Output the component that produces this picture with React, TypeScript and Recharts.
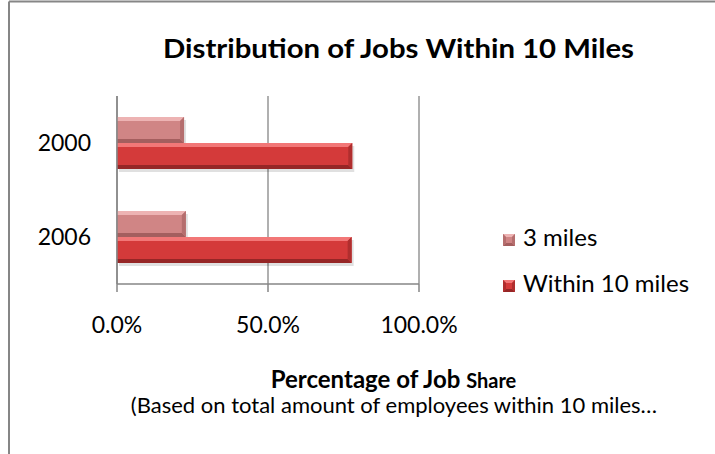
import React from 'react';
import { BarChart, Bar, XAxis, YAxis, CartesianGrid } from 'recharts';

const categories = ['2000', '2006'];
const threeMiles = [22.2, 22.8];
const within10Miles = [77.9, 77.7];
const xTicks = [0, 50, 100];
const seriesNames = ['3 miles', 'Within 10 miles'];
const chartTitle = 'Distribution of Jobs Within 10 Miles';
const axisTitleMain = 'Percentage of Job ';
const axisTitleTail = 'Share';
const axisSubtitle = '(Based on total amount of employees within 10 miles\u2026';

const data = categories.map((c, i) => ({ year: c, three: threeMiles[i], within: within10Miles[i] }));

const FONT = 'Lato, "Open Sans", sans-serif';
const GRID = '#868686';

const palettes = [
  { light: '#EDB3B3', face: '#D08585', dark: '#A45E5E', side: '#B56E6E' },
  { light: '#F27777', face: '#D43A3A', dark: '#962626', side: '#B02E2E' },
];

const makeShape = (p: typeof palettes[number]) => (props: any) => {
  const { x, y, width, height } = props;
  if (!width || width <= 0) return <g />;
  const b = Math.min(4, height / 4);
  return (
    <g>
      <rect x={x + 2} y={y + 3} width={width} height={height} fill="#000" opacity={0.12} />
      <rect x={x} y={y} width={width} height={height} fill={p.face} />
      <polygon points={`${x},${y} ${x + width},${y} ${x + width - b},${y + b} ${x},${y + b}`} fill={p.light} />
      <polygon points={`${x},${y + height} ${x + width},${y + height} ${x + width - b},${y + height - b} ${x},${y + height - b}`} fill={p.dark} />
      <polygon points={`${x + width},${y} ${x + width},${y + height} ${x + width - b},${y + height - b} ${x + width - b},${y + b}`} fill={p.side} />
    </g>
  );
};

const LegendMarker = ({ x, y, p }: { x: number; y: number; p: typeof palettes[number] }) => {
  const s = 12;
  const b = 3;
  return (
    <g>
      <rect x={x} y={y} width={s} height={s} fill={p.face} />
      <polygon points={`${x},${y} ${x + s},${y} ${x + s - b},${y + b} ${x + b},${y + b}`} fill={p.light} />
      <polygon points={`${x},${y + s} ${x + s},${y + s} ${x + s - b},${y + s - b} ${x + b},${y + s - b}`} fill={p.dark} />
      <polygon points={`${x + s},${y} ${x + s},${y + s} ${x + s - b},${y + s - b} ${x + s - b},${y + b}`} fill={p.side} />
      <polygon points={`${x},${y} ${x},${y + s} ${x + b},${y + s - b} ${x + b},${y + b}`} fill={p.side} />
    </g>
  );
};

export default function App() {
  return (
    <div style={{ position: 'absolute', left: 0, top: 0, width: 715, height: 454, background: '#fff', fontFamily: FONT }}>
      <div style={{ position: 'absolute', left: 0, top: 0 }}>
        <BarChart
          width={715}
          height={454}
          data={data}
          layout="vertical"
          margin={{ top: 96, right: 296, bottom: 140, left: 57 }}
          barGap={0}
          barSize={26}
        >
          <CartesianGrid horizontal={false} stroke={GRID} strokeWidth={1.3} />
          <XAxis
            type="number"
            domain={[0, 100]}
            ticks={xTicks}
            interval={0}
            tickFormatter={(v: number) => v.toFixed(1) + '%'}
            axisLine={{ stroke: GRID, strokeWidth: 1.5 }}
            tickLine={{ stroke: GRID, strokeWidth: 1.5 }}
            tickSize={8}
            tickMargin={25}
            height={30}
            tick={{ fill: '#000', fontSize: 23, fontFamily: FONT }}
          />
          <YAxis
            type="category"
            dataKey="year"
            width={60}
            axisLine={{ stroke: GRID, strokeWidth: 1.5 }}
            tickLine={false}
            tickSize={0}
            tickMargin={26}
            tick={{ fill: '#000', fontSize: 23, fontFamily: FONT }}
          />
          <Bar dataKey="three" name={seriesNames[0]} isAnimationActive={false} shape={makeShape(palettes[0])} />
          <Bar dataKey="within" name={seriesNames[1]} isAnimationActive={false} shape={makeShape(palettes[1])} />
        </BarChart>
      </div>
      <svg width={715} height={454} style={{ position: 'absolute', left: 0, top: 0, pointerEvents: 'none' }}>
        <line x1={9} y1={1.5} x2={715} y2={1.5} stroke={GRID} strokeWidth={2} />
        <line x1={9} y1={1.5} x2={9} y2={454} stroke={GRID} strokeWidth={2} />
        <text x={398.5} y={58} textAnchor="middle" fontFamily={FONT} fontWeight={700} fontSize={27} fill="#000" textLength={471} lengthAdjust="spacingAndGlyphs">
          {chartTitle}
        </text>
        {seriesNames.map((n, i) => (
          <g key={n}>
            <LegendMarker x={503} y={234 + i * 46} p={palettes[i]} />
            <text x={523} y={246 + i * 46} fontFamily={FONT} fontSize={24} fill="#000">
              {n}
            </text>
          </g>
        ))}
        <text x={393.5} y={388} textAnchor="middle" fontFamily={FONT} fontWeight={700} fill="#000">
          <tspan fontSize={24}>{axisTitleMain}</tspan>
          <tspan fontSize={20}>{axisTitleTail}</tspan>
        </text>
        <text x={394} y={413} textAnchor="middle" fontFamily={FONT} fontSize={22} fill="#000">
          {axisSubtitle}
        </text>
      </svg>
    </div>
  );
}
